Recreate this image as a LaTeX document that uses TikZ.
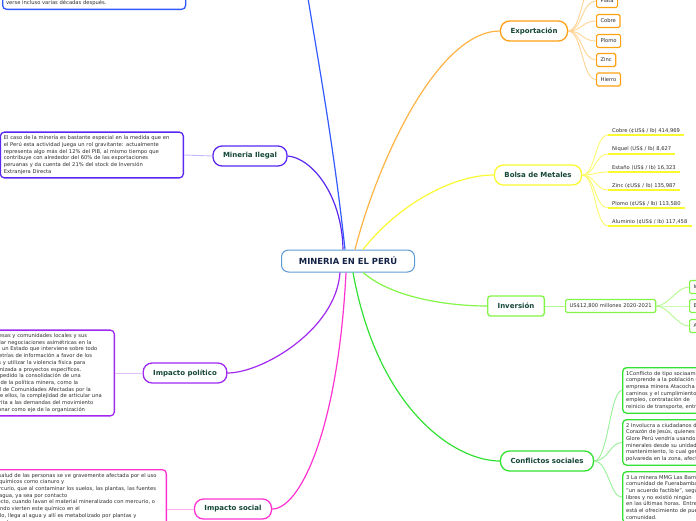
\documentclass[tikz,border=0pt]{standalone}
\usepackage{fontspec}
\setmainfont{DejaVu Sans}
\usetikzlibrary{positioning}
\definecolor{rootline}{RGB}{91,155,213}
\definecolor{roottext}{RGB}{20,35,70}
\definecolor{labeltext}{RGB}{20,70,55}
\definecolor{bodytext}{RGB}{45,45,45}
\definecolor{ambientalc}{RGB}{50,90,255}
\definecolor{ilegalc}{RGB}{90,40,240}
\definecolor{politicoc}{RGB}{160,40,240}
\definecolor{socialc}{RGB}{255,50,210}
\definecolor{exportc}{RGB}{255,160,20}
\definecolor{bolsac}{RGB}{250,250,50}
\definecolor{inversionc}{RGB}{130,245,70}
\definecolor{conflictoc}{RGB}{50,225,50}

\begin{document}
\begin{tikzpicture}[x=1pt, y=-1pt,
    topic/.style={rectangle, rounded corners=9pt, draw=#1, line width=1.3pt,
                  fill=white, minimum height=20pt, inner xsep=10pt,
                  font=\fontsize{7}{8}\selectfont\bfseries, text=labeltext},
    note/.style={rectangle, rounded corners=4pt, draw=#1, line width=1.3pt,
                 fill=white, align=left, inner sep=3.5pt,
                 font=\fontsize{5.2}{6.7}\selectfont, text=bodytext},
    leaf/.style={rectangle, rounded corners=1.5pt, draw=#1, line width=1.2pt,
                 fill=white, minimum height=13pt, inner xsep=4pt,
                 font=\fontsize{5.2}{6}\selectfont, text=bodytext},
    metal/.style={anchor=south west, inner xsep=4pt, inner ysep=2pt,
                  font=\fontsize{5.2}{6}\selectfont, text=bodytext},
    branch/.style={draw=#1, line width=1.2pt},
    twig/.style={draw=#1, line width=0.9pt}
]
\useasboundingbox (0,0) rectangle (696,520);
\clip (0,0) rectangle (696,520);

% centre
\node[draw=rootline, line width=1pt, rounded corners=7pt, fill=white,
      minimum width=133pt, minimum height=22pt,
      font=\fontsize{8.4}{10}\selectfont\bfseries, text=roottext] (root) at (348,261) {MINERIA EN EL PERÚ};

% left side
\coordinate (ambiental) at (302,-40);
\node[note=ambientalc, anchor=south west, text width=176pt] (ambientalnote) at (2,10)
  {Los efectos de la contaminación por mercurio en los\\
   ambientes acuáticos a su cauce, ríos, arroyos, riachuelos y lagos pueden\\
   verse incluso varias décadas después.};

\node[topic=ilegalc] (ilegal) at (250,156) {Mineria Ilegal};
\node[note=ilegalc, anchor=east, text width=176pt] (ilegalnote) at (184,155)
  {El caso de la minería es bastante especial en la medida que en\\
   el Perú esta actividad juega un rol gravitante: actualmente\\
   representa algo más del 12\% del PIB, al mismo tiempo que\\
   contribuye con alrededor del 60\% de las exportaciones\\
   peruanas y da cuenta del 21\% del stock de Inversión\\
   Extranjera Directa};

\node[topic=politicoc] (politico) at (185,373) {Impacto político};
\node[note=politicoc, anchor=east, text width=178pt] (politiconote) at (115,373)
  {Los conflictos entre empresas y comunidades locales y sus\\
   autoridades suelen entablar negociaciones asimétricas en la\\
   medida en que operan en un Estado que interviene sobre todo\\
   para reforzar así las asimetrías de información a favor de los\\
   intereses de las empresas y utilizar la violencia física para\\
   reprimir la oposición organizada a proyectos específicos.\\
   Todo ello, en suma, ha impedido la consolidación de una\\
   oposición nacional crítica de la política minera, como la\\
   la Confederación Nacional de Comunidades Afectadas por la\\
   Minería (CONACAMI). Entre ellos, la complejidad de articular una\\
   agenda nacional circunscrita a las demandas del movimiento\\
   indígena y el lograr funcionar como eje de la organización};

\node[topic=socialc] (social) at (233,509) {Impacto social};
\node[note=socialc, anchor=north east, text width=172pt] (socialnote) at (167,469)
  {La salud de las personas se ve gravemente afectada por el uso\\
   de químicos como cianuro y\\
   mercurio, que al contaminar los suelos, las plantas, las fuentes\\
   de agua, ya sea por contacto\\
   directo, cuando lavan el material mineralizado con mercurio, o\\
   cuando vierten este químico en el\\
   suelo, llega al agua y allí es metabolizado por plantas y\\
   animales.};

% right side
\node[topic=exportc] (export) at (534,31) {Exportación};
\coordinate (oro) at (596,-19);
\node[leaf=exportc, anchor=west] (plata)  at (596,1)  {Plata};
\node[leaf=exportc, anchor=west] (cobre)  at (596,21) {Cobre};
\node[leaf=exportc, anchor=west] (plomo)  at (596,41) {Plomo};
\node[leaf=exportc, anchor=west] (zinc)   at (596,60) {Zinc};
\node[leaf=exportc, anchor=west] (hierro) at (596,79.5) {Hierro};

\node[topic=bolsac] (bolsa) at (538,175) {Bolsa de Metales};
\node[metal] (m1) at (608,135) {Cobre (¢US\$ / lb) 414,969};
\node[metal] (m2) at (608,154) {Niquel (US\$ / lb) 8,627};
\node[metal] (m3) at (608,172) {Estaño (US\$ / lb) 16,323};
\node[metal] (m4) at (608,190) {Zinc (¢US\$ / lb) 135,987};
\node[metal] (m5) at (608,208) {Plomo (¢US\$ / lb) 113,580};
\node[metal] (m6) at (608,226) {Aluminio (¢US\$ / lb) 117,458};

\node[topic=inversionc, rounded corners=3pt] (inversion) at (516,306) {Inversión};
\node[leaf=inversionc, anchor=west] (monto) at (565,306) {US\$12,800 millones 2020-2021};
\node[leaf=inversionc, anchor=west] (inv1) at (689,287) {Infraestructura};
\node[leaf=inversionc, anchor=west] (inv2) at (689,306) {Exploración};
\node[leaf=inversionc, anchor=west] (inv3) at (689,326) {Ampliaciones};

\node[topic=conflictoc] (conflictos) at (547,461) {Conflictos sociales};
\node[note=conflictoc, anchor=north west, text width=110pt] (caso1) at (622,367)
  {1Conflicto de tipo sociaambiental,\\
   comprende a la población de\\
   empresa minera Atacocha por\\
   caminos y el cumplimiento de\\
   empleo, contratación de\\
   reinicio de transporte, entre otros.};
\node[note=conflictoc, anchor=north west, text width=110pt] (caso2) at (622,419)
  {2 Involucra a ciudadanos del\\
   Corazón de Jesús, quienes\\
   Glore Perú vendría usando\\
   minerales desde su unidad\\
   mantenimiento, lo cual genera\\
   polvareda en la zona, afectando};
\node[note=conflictoc, anchor=north west, text width=110pt] (caso3) at (622,471)
  {3 La minera MMG Las Bambas\\
   comunidad de Fuerabamba\\
   "un acuerdo factible", según\\
   libres y no existió ningún\\
   en las últimas horas. Entre\\
   está el ofrecimiento de puestos\\
   comunidad.};

% branches
\draw[branch=ambientalc] ([xshift=-3pt]root.north) .. controls (332,130) and (314,40) .. (ambiental);
\draw[branch=ilegalc] ([xshift=-5pt]root.north) .. controls (342,195) and (312,158) .. (ilegal.east);
\draw[branch=exportc!80] ([xshift=7pt]root.north) .. controls (378,160) and (438,31) .. (export.west);
\draw[branch=bolsac] ([xshift=15pt]root.north) .. controls (398,205) and (452,175) .. (bolsa.west);
\draw[branch=politicoc] ([xshift=-8pt]root.south) .. controls (336,330) and (262,373) .. (politico.east);
\draw[branch=socialc] ([xshift=-2pt]root.south) .. controls (338,430) and (300,509) .. (social.east);
\draw[branch=inversionc] ([xshift=15pt]root.south) .. controls (395,300) and (455,306) .. (inversion.west);
\draw[branch=conflictoc] ([xshift=5pt]root.south) .. controls (378,410) and (455,461) .. (conflictos.west);

% twigs
\draw[twig=ilegalc!35] (ilegal.west) -- (ilegalnote.east);
\draw[twig=politicoc!30] (politico.west) -- (politiconote.east);
\draw[twig=socialc!40] (social.west) -- (socialnote.east |- social.west);
\foreach \n in {plata,cobre,plomo,zinc,hierro}
  \draw[twig=exportc!45] (export.east) .. controls +(14,0) and +(-14,0) .. (\n.west);
\draw[twig=exportc!45] (export.east) .. controls +(14,0) and +(-14,0) .. (oro);
\foreach \n in {m1,m2,m3,m4,m5,m6} {
  \draw[twig=bolsac!70] (bolsa.east) .. controls +(13,0) and +(-13,0) .. (\n.south west);
  \draw[line width=1.4pt, bolsac] (\n.south west) -- (\n.south east);
}
\draw[twig=inversionc!60] (inversion.east) -- (monto.west);
\foreach \n in {inv1,inv2,inv3}
  \draw[twig=inversionc!60] (monto.east) .. controls +(12,0) and +(-12,0) .. (\n.west);
\foreach \n in {caso1,caso2,caso3}
  \draw[twig=conflictoc!50] (conflictos.east) .. controls +(14,0) and +(-12,0) .. (\n.west);
\end{tikzpicture}
\end{document}
